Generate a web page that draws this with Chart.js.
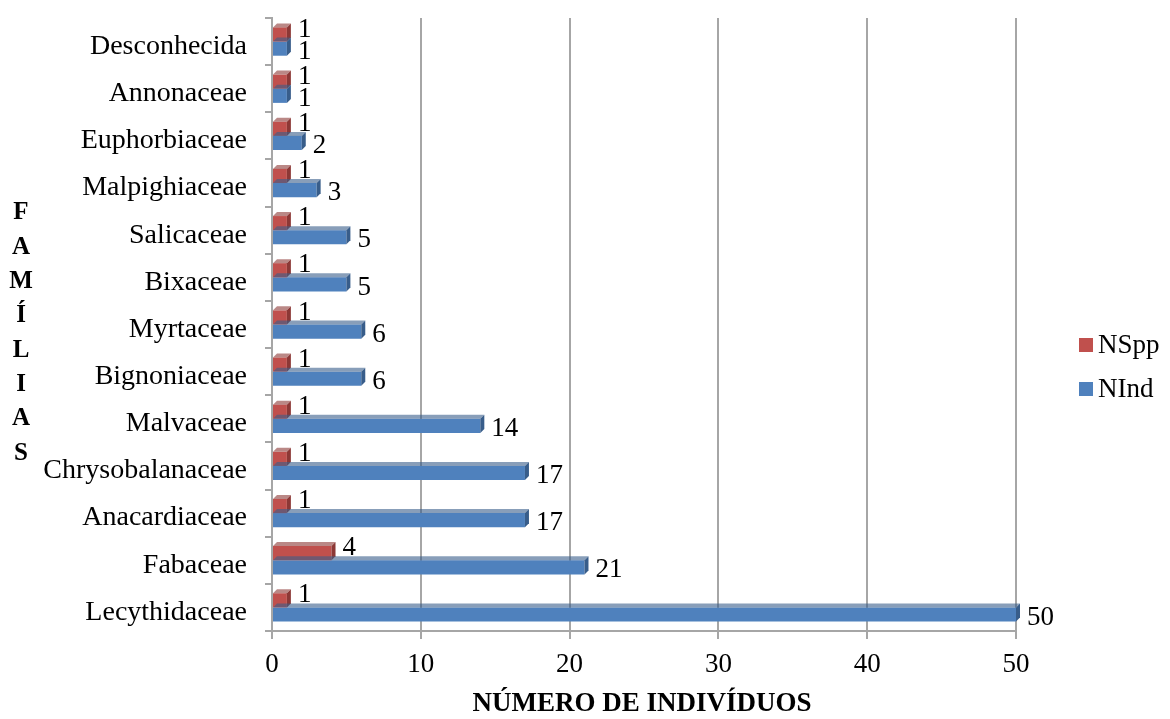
<!DOCTYPE html>
<html>
<head>
<meta charset="utf-8">
<script src="https://cdn.jsdelivr.net/npm/chart.js@4.4.1/dist/chart.umd.min.js"></script>
<style>
  html, body { margin: 0; padding: 0; background: #fff; }
  #wrap { width: 1170px; height: 719px; }
</style>
</head>
<body>
<div id="wrap"><canvas id="myChart" width="1170" height="719"></canvas></div>
<script>
// data, top row first
const families = [
  "Desconhecida",
  "Annonaceae",
  "Euphorbiaceae",
  "Malpighiaceae",
  "Salicaceae",
  "Bixaceae",
  "Myrtaceae",
  "Bignoniaceae",
  "Malvaceae",
  "Chrysobalanaceae",
  "Anacardiaceae",
  "Fabaceae",
  "Lecythidaceae",
];
const nSpp = [1, 1, 1, 1, 1, 1, 1, 1, 1, 1, 1, 4, 1];
const nInd = [1, 1, 2, 3, 5, 5, 6, 6, 14, 17, 17, 21, 50];
const xTicks = [0, 10, 20, 30, 40, 50];
const seriesNames = ["NSpp", "NInd"];

const FONT = "'Liberation Serif', 'Times New Roman', serif";
const RED = "#C0504D";
const BLUE = "#4F81BD";
const GRID = "#A6A6A6";

const extras = {
  id: "extras",
  afterDatasetsDraw(chart) {
    const ctx = chart.ctx;
    ctx.save();
    // little 3D end caps on the bars
    chart.data.datasets.forEach((ds, di) => {
      const meta = chart.getDatasetMeta(di);
      const dark = di === 0 ? "#8C3836" : "#385D8A";
      meta.data.forEach((bar) => {
        const top = bar.y - bar.height / 2;
        const bottom = bar.y + bar.height / 2;
        ctx.fillStyle = dark;
        ctx.beginPath();
        ctx.moveTo(bar.x, top);
        ctx.lineTo(bar.x + 4, top - 4);
        ctx.lineTo(bar.x + 4, bottom - 4);
        ctx.lineTo(bar.x, bottom);
        ctx.closePath();
        ctx.fill();
        ctx.beginPath();
        ctx.moveTo(bar.base, top);
        ctx.lineTo(bar.base + 4, top - 4);
        ctx.lineTo(bar.x + 4, top - 4);
        ctx.lineTo(bar.x, top);
        ctx.closePath();
        ctx.globalAlpha = 0.6;
        ctx.fill();
        ctx.globalAlpha = 1;
      });
    });
    // value labels
    ctx.fillStyle = "#000";
    ctx.font = "27px " + FONT;
    ctx.textAlign = "left";
    ctx.textBaseline = "middle";
    chart.data.datasets.forEach((ds, di) => {
      const meta = chart.getDatasetMeta(di);
      meta.data.forEach((bar, i) => {
        const dy = di === 0 ? -5 : 3;
        ctx.fillText(String(ds.data[i]), bar.x + 11, bar.y + dy);
      });
    });
    // y axis title, one letter per line
    ctx.font = "bold 25px " + FONT;
    ctx.textAlign = "center";
    const letters = ["F", "A", "M", "Í", "L", "I", "A", "S"];
    letters.forEach((ch, i) => ctx.fillText(ch, 21, 213 + i * 34.3));
    // x axis title
    ctx.font = "bold 27px " + FONT;
    ctx.fillText("NÚMERO DE INDIVÍDUOS", 642, 704);
    // legend
    ctx.font = "27px " + FONT;
    ctx.textAlign = "left";
    const colors = [RED, BLUE];
    seriesNames.forEach((name, i) => {
      const cy = 345 + i * 44;
      ctx.fillStyle = colors[i];
      ctx.fillRect(1079, cy - 7, 14, 14);
      ctx.fillStyle = "#000";
      ctx.fillText(name, 1098, cy + 1);
    });
    ctx.restore();
  },
};

const myChart = new Chart(document.getElementById("myChart").getContext("2d"), {
  type: "bar",
  data: {
    labels: families,
    datasets: [
      {
        label: seriesNames[0],
        data: nSpp,
        backgroundColor: RED,
        categoryPercentage: 0.6,
        barPercentage: 1.0,
      },
      {
        label: seriesNames[1],
        data: nInd,
        backgroundColor: BLUE,
        categoryPercentage: 0.6,
        barPercentage: 1.0,
      },
    ],
  },
  options: {
    indexAxis: "y",
    responsive: false,
    animation: false,
    layout: { padding: { top: 18, right: 154, left: 0, bottom: 0 } },
    plugins: {
      legend: { display: false },
      tooltip: { enabled: false },
    },
    scales: {
      x: {
        min: 0,
        max: 50,
        afterBuildTicks: (scale) => {
          scale.ticks = xTicks.map((v) => ({ value: v }));
        },
        afterFit: (scale) => {
          scale.height = 88;
        },
        grid: {
          color: GRID,
          lineWidth: 2,
          tickLength: 8,
        },
        border: { color: GRID, width: 2 },
        ticks: {
          color: "#000",
          padding: 10,
          font: { family: FONT, size: 27 },
        },
      },
      y: {
        afterFit: (scale) => {
          scale.width = 272;
          scale.paddingTop = 0;
          scale.paddingBottom = 0;
        },
        grid: {
          drawOnChartArea: false,
          color: GRID,
          lineWidth: 2,
          tickLength: 7,
        },
        border: { color: GRID, width: 2 },
        ticks: {
          color: "#000",
          padding: 18,
          labelOffset: 5,
          font: { family: FONT, size: 28 },
        },
      },
    },
  },
  plugins: [extras],
});
</script>
</body>
</html>
